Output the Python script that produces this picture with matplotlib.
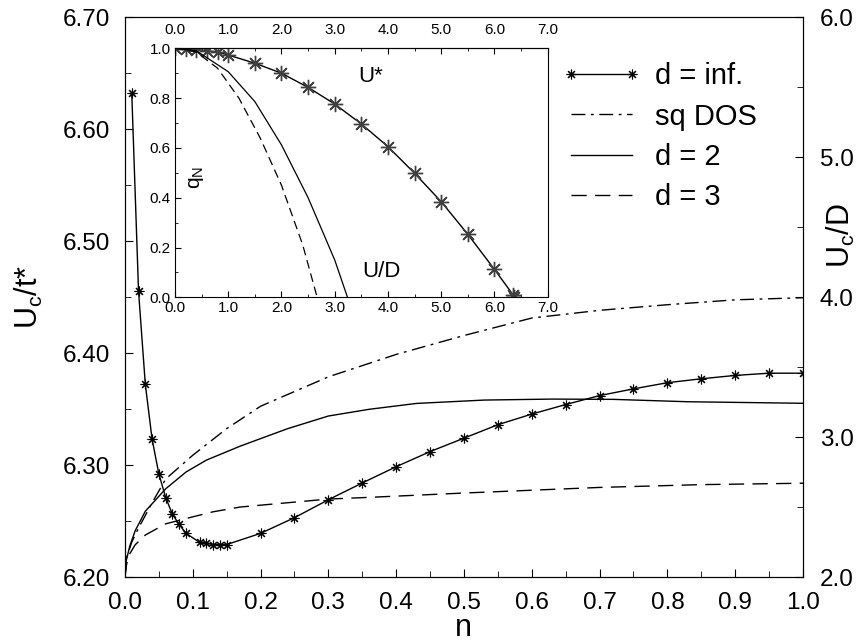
import numpy as np
import matplotlib.pyplot as plt
from matplotlib.ticker import FormatStrFormatter, MultipleLocator

plt.rcParams['font.family'] = ['Liberation Sans', 'DejaVu Sans']

# main panel: d = inf, left axis (U_c/t*)
n_inf = [0.01, 0.02, 0.03, 0.04, 0.05, 0.06, 0.07, 0.08, 0.09, 0.11, 0.12, 0.13, 0.14, 0.15,
         0.20, 0.25, 0.30, 0.35, 0.40, 0.45, 0.50, 0.55, 0.60, 0.65, 0.70, 0.75, 0.80, 0.85,
         0.90, 0.95, 1.00]
uc_inf = [6.632, 6.455, 6.372, 6.323, 6.292, 6.271, 6.256, 6.247, 6.239, 6.231, 6.230, 6.229,
          6.229, 6.229, 6.239, 6.253, 6.269, 6.284, 6.2985, 6.312, 6.324, 6.336, 6.3455,
          6.354, 6.362, 6.368, 6.3735, 6.377, 6.380, 6.382, 6.382]

# sq DOS, d = 2, d = 3: right axis (U_c/D)
n_sq = [0, 0.002, 0.01, 0.02, 0.04, 0.06, 0.10, 0.15, 0.20, 0.30, 0.40, 0.50, 0.60, 0.70,
        0.80, 0.90, 1.00]
uc_sq = [2.0, 2.13, 2.25, 2.35, 2.53, 2.70, 2.87, 3.06, 3.22, 3.43, 3.59, 3.725, 3.85,
         3.905, 3.945, 3.98, 3.995]

n_d2 = [0, 0.002, 0.007, 0.015, 0.03, 0.06, 0.09, 0.12, 0.17, 0.24, 0.30, 0.36, 0.43,
        0.53, 0.63, 0.72, 0.83, 1.00]
uc_d2 = [2.0, 2.12, 2.22, 2.33, 2.47, 2.63, 2.75, 2.835, 2.935, 3.06, 3.15, 3.198, 3.24,
         3.264, 3.271, 3.269, 3.252, 3.241]

n_d3 = [0, 0.002, 0.005, 0.015, 0.03, 0.06, 0.10, 0.13, 0.17, 0.30, 0.36, 0.50, 0.70,
        0.85, 1.00]
uc_d3 = [2.0, 2.08, 2.15, 2.23, 2.30, 2.38, 2.43, 2.466, 2.50, 2.557, 2.569, 2.60, 2.64,
         2.66, 2.67]

# inset: q_N against U
u_inf = [0.0, 0.2, 0.4, 0.6, 0.8, 1.0, 1.5, 2.0, 2.5, 3.0, 3.5, 4.0, 4.5, 5.0, 5.5, 6.0,
         6.35, 6.37]
q_inf = [1.0, 0.998, 0.995, 0.99, 0.985, 0.973, 0.940, 0.900, 0.843, 0.776, 0.696, 0.605,
         0.498, 0.384, 0.253, 0.112, 0.01, 0.0]
u_d2 = [0.0, 0.4, 1.0, 1.5, 2.0, 2.5, 3.0, 3.24]
q_d2 = [1.0, 0.99, 0.906, 0.786, 0.612, 0.40, 0.15, 0.0]
u_d3 = [0.0, 0.4, 0.8, 1.2, 1.6, 2.0, 2.4, 2.67]
q_d3 = [1.0, 0.985, 0.92, 0.80, 0.64, 0.45, 0.21, 0.0]

ast = (8, 2, 0)
dashdot = (0, (10, 4, 2, 4))
dashed = (0, (11, 6))

fig = plt.figure(figsize=(8.59, 6.42), dpi=100)
ax = fig.add_axes([0.1455, 0.1012, 0.7893, 0.8723])
ax2 = ax.twinx()

h_inf, = ax.plot(n_inf, uc_inf, color='black', lw=1.0, marker=ast, ms=7, mew=0.8)
h_sq, = ax2.plot(n_sq, uc_sq, color='black', lw=1.0, linestyle=dashdot)
h_d2, = ax2.plot(n_d2, uc_d2, color='black', lw=1.0)
h_d3, = ax2.plot(n_d3, uc_d3, color='black', lw=1.0, linestyle=dashed)

ax.set_xlim(0, 1)
ax.set_ylim(6.2, 6.7)
ax2.set_ylim(2.0, 6.0)

ax.set_xticks(np.arange(0, 1.01, 0.1))
ax.xaxis.set_minor_locator(MultipleLocator(0.05))
ax.set_yticks(np.arange(6.2, 6.71, 0.1))
ax.yaxis.set_minor_locator(MultipleLocator(0.05))
ax.xaxis.set_major_formatter(FormatStrFormatter('%.1f'))
ax.yaxis.set_major_formatter(FormatStrFormatter('%.2f'))
ax2.set_yticks(np.arange(2, 6.1, 1.0))
ax2.yaxis.set_minor_locator(MultipleLocator(0.5))
ax2.yaxis.set_major_formatter(FormatStrFormatter('%.1f'))

ax.tick_params(which='both', direction='in', top=False, labelsize=17.5)
ax.tick_params(which='major', length=6)
ax.tick_params(which='minor', length=4)
ax.tick_params(axis='x', pad=11)
ax.tick_params(axis='y', pad=11)
ax2.tick_params(which='both', direction='in', labelsize=17.5, pad=12)
ax2.tick_params(which='major', length=6)
ax2.tick_params(which='minor', length=4)

fig.text(463 / 859, 1 - 628 / 642, 'n', fontsize=22, ha='center', va='center')
fig.text(29 / 859, 1 - 297 / 642, r'$\mathregular{U_c}$/t*', fontsize=22, rotation=90,
         ha='center', va='center')
fig.text(841 / 859, 1 - 236 / 642, r'$\mathregular{U_c}$/D', fontsize=22, rotation=90,
         ha='center', va='center')

ax2.legend([h_inf, h_sq, h_d2, h_d3], ['d = inf.', 'sq DOS', 'd = 2', 'd = 3'],
           loc='upper left', bbox_to_anchor=(0.654, 0.903), bbox_transform=fig.transFigure,
           frameon=False, fontsize=21, handlelength=2.7, handletextpad=0.5, numpoints=2,
           labelspacing=0.42, borderpad=0, borderaxespad=0)

# inset
ins = fig.add_axes([0.2037, 0.5369, 0.4339, 0.3879])
ins.plot(u_inf, q_inf, color='black', lw=1.0, marker='.', ms=4)
ins.plot(u_inf, q_inf, linestyle='none', marker=ast, ms=11, mew=1.0, color='0.25')
ins.plot(u_d2, q_d2, color='black', lw=0.9)
ins.plot(u_d3, q_d3, color='black', lw=0.9, linestyle=(0, (7, 4)))
ins.set_xlim(0, 7)
ins.set_ylim(0, 1)
ins.set_xticks(np.arange(0, 7.01, 1.0))
ins.xaxis.set_minor_locator(MultipleLocator(0.5))
ins.set_yticks(np.arange(0, 1.01, 0.2))
ins.yaxis.set_minor_locator(MultipleLocator(0.1))
ins.xaxis.set_major_formatter(FormatStrFormatter('%.1f'))
ins.yaxis.set_major_formatter(FormatStrFormatter('%.1f'))
ins.tick_params(which='both', direction='in', top=False, right=False, labelsize=11, pad=3)
ins.tick_params(which='major', length=4)
ins.tick_params(which='minor', length=2)

top = ins.secondary_xaxis('top')
top.set_xticks(np.arange(0, 7.01, 1.0))
top.xaxis.set_minor_locator(MultipleLocator(0.5))
top.xaxis.set_major_formatter(FormatStrFormatter('%.1f'))
top.tick_params(which='both', direction='in', labelsize=11, pad=8)
top.tick_params(which='major', length=4)
top.tick_params(which='minor', length=2)

ins.text(3.44, 0.865, 'U*', fontsize=16)
ins.text(3.52, 0.082, 'U/D', fontsize=16)
ins.text(0.41, 0.48, r'$\mathregular{q_N}$', fontsize=15, rotation=90, ha='center',
         va='center')

fig.savefig('out.png', dpi=100)
